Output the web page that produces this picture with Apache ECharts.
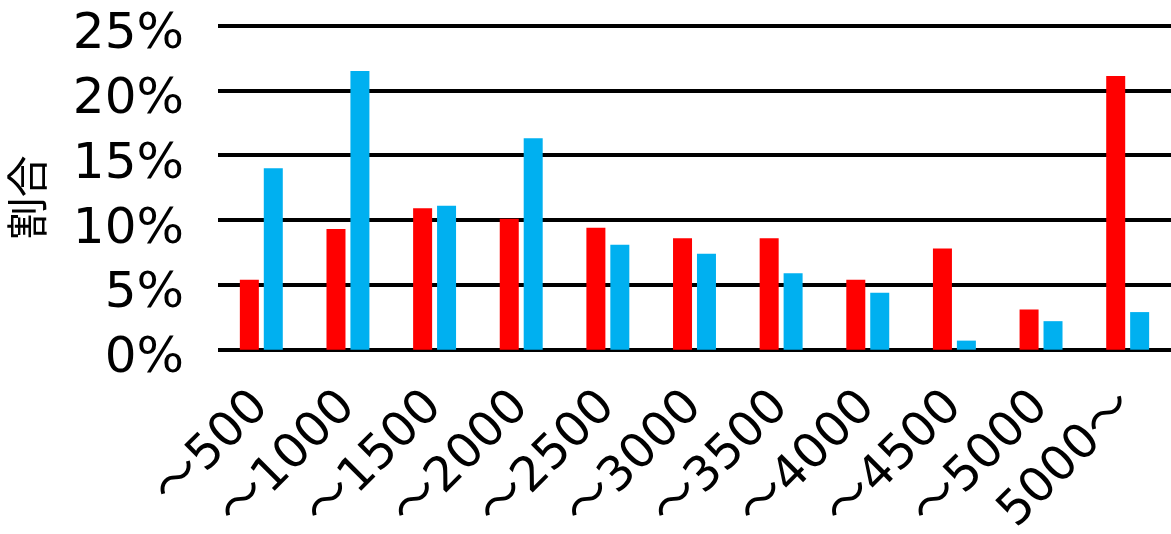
<!DOCTYPE html>
<html>
<head>
<meta charset="utf-8">
<script src="https://cdn.jsdelivr.net/npm/echarts@6/dist/echarts.min.js"></script>
<style>
  html, body { margin: 0; padding: 0; background: #fff; }
  #chart { width: 1171px; height: 534px; }
</style>
</head>
<body>
<div id="chart"></div>
<script>
// Income brackets (category axis)
const categories = ['～500', '～1000', '～1500', '～2000', '～2500', '～3000', '～3500', '～4000', '～4500', '～5000', '5000～'];
// Share per bracket, in percent
const seriesRed  = [5.4, 9.3, 10.9, 10.1, 9.4, 8.6, 8.6, 5.4, 7.8, 3.1, 21.1];
const seriesBlue = [14.0, 21.5, 11.1, 16.3, 8.1, 7.4, 5.9, 4.4, 0.7, 2.2, 2.9];
// Value axis ticks
const yTicks = [0, 5, 10, 15, 20, 25];
const yName = '割合';

const FONT = '"DejaVu Sans", "Noto Sans CJK JP", sans-serif';
const FONT_CJK = '"Noto Sans CJK JP", sans-serif';

const chart = echarts.init(document.getElementById('chart'), null, { renderer: 'canvas' });
chart.setOption({
  animation: false,
  backgroundColor: '#ffffff',
  grid: {
    left: 218, right: 0, top: 25.5, bottom: 184.3,
    containLabel: false,
    outerBoundsMode: 'none'
  },
  xAxis: {
    type: 'category',
    data: categories,
    axisLine: { show: false },
    axisTick: { show: false },
    axisLabel: {
      interval: 0,
      rotate: 45,
      margin: 50,
      color: '#000',
      fontSize: 48,
      fontFamily: FONT
    }
  },
  yAxis: {
    type: 'value',
    min: yTicks[0],
    max: yTicks[yTicks.length - 1],
    interval: 5,
    name: yName,
    nameLocation: 'middle',
    nameGap: 170,
    nameTextStyle: { color: '#000', fontSize: 42, fontFamily: FONT_CJK, padding: [0, 20, 0, 0] },
    axisLine: { show: false },
    axisTick: { show: false },
    axisLabel: {
      margin: 34,
      color: '#000',
      formatter: v => '{v|' + v + '%}',
      rich: {
        v: { fontSize: 50, fontFamily: FONT, color: '#000', padding: [19, 0, 0, 0] }
      }
    },
    splitLine: { show: true, lineStyle: { color: '#000', width: 4 } }
  },
  series: [
    {
      type: 'bar',
      data: seriesRed,
      barWidth: 19,
      barGap: '26%',
      itemStyle: { color: '#ff0000' }
    },
    {
      type: 'bar',
      data: seriesBlue,
      barWidth: 19,
      itemStyle: { color: '#00b0f0' }
    }
  ]
});
</script>
</body>
</html>
